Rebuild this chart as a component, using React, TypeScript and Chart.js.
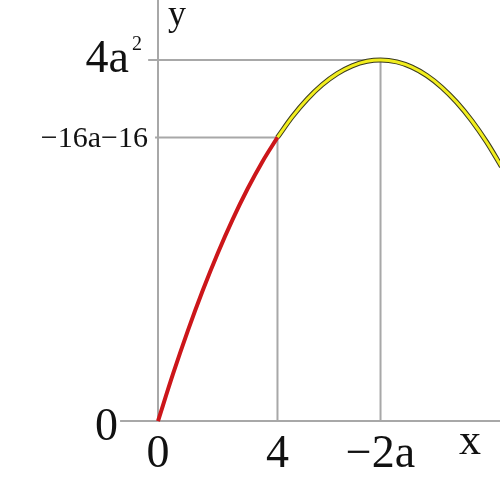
import React, { useEffect, useRef } from "react";
import { Chart, registerables } from "chart.js";

Chart.register(...registerables);

// ---- data ----
const xTickValues = [0, 4, 7.45];
const xTickLabels = ["0", "4", "\u22122a"];
const yTickValues = [0, 43.6, 55.5];
const yTickLabels = ["0", "\u221216a\u221216", "4a"];
const ySuperscript = ["", "", "2"];

const redX = [0, 0.5, 1, 1.5, 2, 2.5, 3, 3.5, 4];
const redY = [0, 7.2, 13.9, 20.1, 25.8, 31.0, 35.7, 39.9, 43.6];

const yellowX = [4, 4.5, 5, 5.5, 6, 6.5, 7, 7.45, 8, 8.5, 9, 9.5, 10, 10.5, 11, 11.5];
const yellowY = [43.6, 46.8, 49.5, 51.7, 53.4, 54.6, 55.3, 55.5, 55.2, 54.4, 53.1, 51.3, 49.0, 46.2, 42.9, 39.1];

const X_MIN = -5.29;
const X_MAX = 11.45;
const Y_MIN = -12.14;
const Y_MAX = 64.72;

const GRAY = "#a8a8a8";
const SERIF = '"Liberation Serif", "DejaVu Serif", serif';

function pts(xs: number[], ys: number[]) {
  return xs.map((x, i) => ({ x, y: ys[i] }));
}

export default function App() {
  const ref = useRef<HTMLCanvasElement | null>(null);

  useEffect(() => {
    if (!ref.current) return;
    const guide = (data: { x: number; y: number }[]) => ({
      data,
      showLine: true,
      borderColor: GRAY,
      borderWidth: 2,
      pointRadius: 0,
      tension: 0,
      order: 3,
    });

    const guides = [
      guide([{ x: -1.27, y: 0 }, { x: X_MAX, y: 0 }]),
      guide([{ x: 0, y: 0 }, { x: 0, y: Y_MAX }]),
      guide([{ x: xTickValues[1], y: 0 }, { x: xTickValues[1], y: yTickValues[1] }]),
      guide([{ x: xTickValues[2], y: 0 }, { x: xTickValues[2], y: yTickValues[2] }]),
      guide([{ x: -0.1, y: yTickValues[1] }, { x: xTickValues[1], y: yTickValues[1] }]),
      guide([{ x: -0.33, y: yTickValues[2] }, { x: xTickValues[2], y: yTickValues[2] }]),
    ];

    const labelPlugin = {
      id: "labels",
      afterDraw(chart: any) {
        const ctx = chart.ctx;
        const xs = chart.scales.x;
        const ys = chart.scales.y;
        ctx.save();
        ctx.fillStyle = "#111";
        ctx.textBaseline = "alphabetic";
        // x tick labels
        ctx.textAlign = "center";
        ctx.font = `46px ${SERIF}`;
        xTickLabels.forEach((t, i) => {
          ctx.fillText(t, xs.getPixelForValue(xTickValues[i]), ys.getPixelForValue(0) + 46);
        });
        // y tick labels
        ctx.textAlign = "right";
        const x0 = xs.getPixelForValue(0);
        const yOpts = [
          { size: 46, dx: -40, dy: 19 },
          { size: 30, dx: -10, dy: 10 },
          { size: 46, dx: -29, dy: 12 },
        ];
        yTickLabels.forEach((t, i) => {
          const o = yOpts[i];
          ctx.font = `${o.size}px ${SERIF}`;
          const py = ys.getPixelForValue(yTickValues[i]);
          ctx.fillText(t, x0 + o.dx, py + o.dy);
          if (ySuperscript[i]) {
            ctx.textAlign = "left";
            ctx.font = `20px ${SERIF}`;
            ctx.fillText(ySuperscript[i], x0 + o.dx + 3, py - 10);
            ctx.textAlign = "right";
          }
        });
        // axis names
        ctx.textAlign = "left";
        ctx.font = `44px ${SERIF}`;
        ctx.fillText("x", 459, ys.getPixelForValue(0) + 33);
        ctx.font = `36px ${SERIF}`;
        ctx.fillText("y", x0 + 10, 25);
        ctx.restore();
      },
    };

    const chart = new Chart(ref.current, {
      type: "scatter",
      data: {
        datasets: [
          {
            data: pts(redX, redY),
            showLine: true,
            borderColor: "#cc161a",
            borderWidth: 4,
            pointRadius: 0,
            cubicInterpolationMode: "monotone",
            order: 0,
          },
          {
            data: pts(yellowX, yellowY),
            showLine: true,
            borderColor: "#f2ee1e",
            borderWidth: 3,
            pointRadius: 0,
            cubicInterpolationMode: "monotone",
            order: 1,
          },
          {
            data: pts(yellowX, yellowY),
            showLine: true,
            borderColor: "#3a3a20",
            borderWidth: 5,
            pointRadius: 0,
            cubicInterpolationMode: "monotone",
            order: 2,
          },
          ...guides,
        ] as any,
      },
      options: {
        animation: false,
        responsive: false,
        devicePixelRatio: 1,
        layout: { padding: 0 },
        plugins: { legend: { display: false }, tooltip: { enabled: false } },
        events: [],
        scales: {
          x: { type: "linear", min: X_MIN, max: X_MAX, display: false },
          y: { type: "linear", min: Y_MIN, max: Y_MAX, display: false },
        },
      },
      plugins: [labelPlugin],
    });
    return () => chart.destroy();
  }, []);

  return (
    <div style={{ position: "absolute", left: 0, top: 0, width: 500, height: 500, background: "#fff" }}>
      <canvas ref={ref} width={500} height={500} />
    </div>
  );
}
